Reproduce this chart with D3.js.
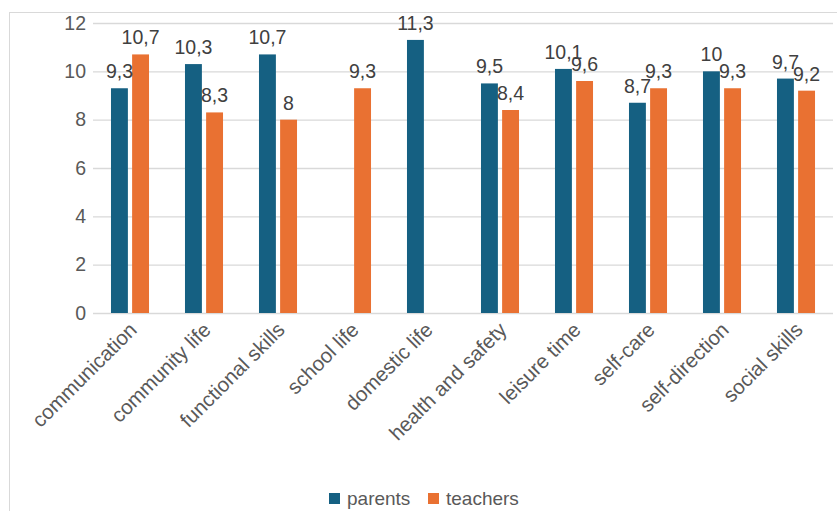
<!DOCTYPE html>
<html>
<head>
<script src="https://cdnjs.cloudflare.com/ajax/libs/d3/7.8.5/d3.min.js"></script>
<style>
  body { margin: 0; background: #fff; }
  svg { display: block; font-family: "Liberation Sans", Arial, sans-serif; }
</style>
</head>
<body>
<svg id="chart" width="837" height="511"></svg>
<script>
  const categories = ["communication", "community life", "functional skills", "school life", "domestic life",
    "health and safety", "leisure time", "self-care", "self-direction", "social skills"];
  const parents = [9.3, 10.3, 10.7, null, 11.3, 9.5, 10.1, 8.7, 10, 9.7];
  const teachers = [10.7, 8.3, 8, 9.3, null, 8.4, 9.6, 9.3, 9.3, 9.2];
  const seriesNames = ["parents", "teachers"];
  const yTicks = [0, 2, 4, 6, 8, 10, 12];

  const colors = { parents: "#156082", teachers: "#E97132" };
  const svg = d3.select("#chart");

  // outer frame of the chart
  svg.append("rect").attr("x", 9.5).attr("y", 12.5).attr("width", 840).attr("height", 520)
    .attr("fill", "none").attr("stroke", "#d9d9d9").attr("stroke-width", 1);

  const plotL = 93, plotR = 833, plotT = 23, plotB = 313;

  const y = d3.scaleLinear().domain([0, 12]).range([plotB, plotT]);
  const p = 0.486;
  const x0 = d3.scaleBand().domain(categories).range([plotL, plotR]).paddingInner(p).paddingOuter(p / 2);
  const x1 = d3.scaleBand().domain(seriesNames).range([0, x0.bandwidth()]).paddingInner(0.2);

  // gridlines + y labels
  const yAxis = d3.axisLeft(y).tickValues(yTicks).tickSize(-(plotR - plotL)).tickPadding(7);
  const ga = svg.append("g").attr("transform", `translate(${plotL},0)`).call(yAxis);
  ga.select(".domain").remove();
  ga.selectAll(".tick line").attr("stroke", "#d9d9d9").attr("stroke-width", 1.3);
  ga.selectAll(".tick text").attr("fill", "#595959").style("font-size", "19.5px")
    .attr("font-family", "Liberation Sans, Arial, sans-serif");

  const rows = categories.map((c, i) => ({ cat: c, values: [
    { key: "parents", v: parents[i] }, { key: "teachers", v: teachers[i] }] }));

  const groups = svg.append("g").selectAll("g").data(rows).join("g")
    .attr("transform", d => `translate(${x0(d.cat)},0)`);

  groups.selectAll("rect").data(d => d.values.filter(e => e.v != null)).join("rect")
    .attr("x", d => x1(d.key)).attr("width", x1.bandwidth())
    .attr("y", d => y(d.v)).attr("height", d => y(0) - y(d.v))
    .attr("fill", d => colors[d.key]);

  groups.selectAll("text").data(d => d.values.filter(e => e.v != null)).join("text")
    .attr("x", d => x1(d.key) + x1.bandwidth() / 2)
    .attr("y", d => y(d.v) - 10)
    .attr("text-anchor", "middle").attr("fill", "#404040").style("font-size", "19.5px")
    .text(d => String(d.v).replace(".", ","));

  // category labels
  svg.append("g").selectAll("text").data(categories).join("text")
    .attr("transform", d => `translate(${x0(d) + x0.bandwidth() / 2 + 3},${plotB + 13}) rotate(-45)`)
    .attr("text-anchor", "end").attr("dy", "0.35em")
    .attr("fill", "#595959").style("font-size", "20.5px")
    .text(d => d);

  // legend
  const legend = svg.append("g");
  const legendX = [329, 428];
  seriesNames.forEach((s, i) => {
    legend.append("rect").attr("x", legendX[i]).attr("y", 493).attr("width", 11).attr("height", 11)
      .attr("fill", colors[s]);
    legend.append("text").attr("x", legendX[i] + 18).attr("y", 505)
      .attr("fill", "#595959").style("font-size", "19px").text(s);
  });
</script>
</body>
</html>
